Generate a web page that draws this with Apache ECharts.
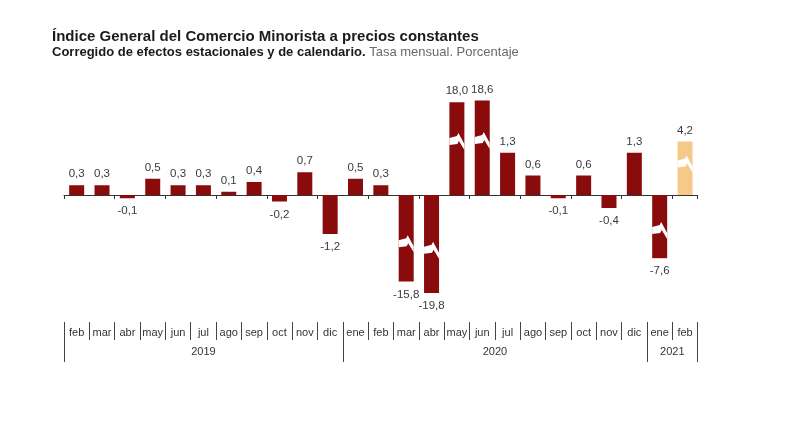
<!DOCTYPE html>
<html>
<head>
<meta charset="utf-8">
<script src="https://cdn.jsdelivr.net/npm/echarts@6/dist/echarts.min.js"></script>
<style>
html,body{margin:0;padding:0;background:#fff;}
#chart{width:800px;height:445px;}
</style>
</head>
<body>
<div id="chart"></div>
<script>
// ---- Data ----
var months = ['feb','mar','abr','may','jun','jul','ago','sep','oct','nov','dic',
              'ene','feb','mar','abr','may','jun','jul','ago','sep','oct','nov','dic',
              'ene','feb'];
var years = ['2019','2019','2019','2019','2019','2019','2019','2019','2019','2019','2019',
             '2020','2020','2020','2020','2020','2020','2020','2020','2020','2020','2020','2020',
             '2021','2021'];
var values = [0.3,0.3,-0.1,0.5,0.3,0.3,0.1,0.4,-0.2,0.7,-1.2,
              0.5,0.3,-15.8,-19.8,18.0,18.6,1.3,0.6,-0.1,0.6,-0.4,1.3,
              -7.6,4.2];
var highlighted = [24]; // last month shown in a lighter colour
var breakFrom = 1.4;    // axis is compressed beyond +-breakFrom
var breakTo = 21;
var breakGap = 1.72;

// ---- Derived ----
var barColor = '#8a0b0b';
var hiColor = '#f6c98a';
function fmt(v){ return v.toFixed(1).replace('.', ','); }

var barData = values.map(function(v, i){
  return {
    value: v,
    itemStyle: {color: highlighted.indexOf(i) >= 0 ? hiColor : barColor},
    label: {position: v < 0 ? 'bottom' : 'top', distance: v < 0 ? 7 : 5}
  };
});
var markData = [];
values.forEach(function(v, i){ if (Math.abs(v) > breakFrom) markData.push([i, v]); });

// year boundaries and centres
var yearTicks = [0], yearCenters = [], yearNames = [];
var start = 0;
for (var i = 1; i <= years.length; i++) {
  if (i === years.length || years[i] !== years[i-1]) {
    yearTicks.push(i);
    yearCenters.push((start + i) / 2);
    yearNames.push(years[i-1]);
    start = i;
  }
}

var chart = echarts.init(document.getElementById('chart'), null, {renderer: 'canvas'});
var FONT = 'Liberation Sans, Arial, sans-serif';
var BW = 15;

chart.setOption({
  animation: false,
  backgroundColor: '#fff',
  title: {
    left: 52, top: 29.5, padding: 0, itemGap: 1,
    text: 'Índice General del Comercio Minorista a precios constantes',
    textStyle: {fontFamily: FONT, fontSize: 15, fontWeight: 'bold', color: '#1a1a1a'},
    subtext: '{b|Corregido de efectos estacionales y de calendario.} {n|Tasa mensual. Porcentaje}',
    subtextStyle: {
      fontFamily: FONT, fontSize: 13,
      rich: {
        b: {fontFamily: FONT, fontSize: 13, fontWeight: 'bold', color: '#1a1a1a'},
        n: {fontFamily: FONT, fontSize: 13, color: '#6a6a6a'}
      }
    }
  },
  grid: {left: 64, right: 102.3, top: 93.6, height: 202.8},
  xAxis: [
    {
      type: 'category', data: months, boundaryGap: true,
      axisLine: {onZero: true, lineStyle: {color: '#333', width: 1}},
      axisTick: {show: true, length: 4, lineStyle: {color: '#333'}},
      axisLabel: {show: false}, splitLine: {show: false}
    },
    {
      type: 'category', data: months, boundaryGap: true, position: 'bottom', offset: 25.6,
      axisLine: {show: false},
      axisTick: {show: true, length: 18, lineStyle: {color: '#444'}},
      axisLabel: {show: true, interval: 0, margin: 5, fontFamily: FONT, fontSize: 11, color: '#333'},
      splitLine: {show: false}
    },
    {
      type: 'value', min: 0, max: months.length, position: 'bottom', offset: 25.6,
      axisLine: {show: false},
      axisTick: {show: true, length: 40, customValues: yearTicks, lineStyle: {color: '#444'}},
      axisLabel: {
        show: true, margin: 24, customValues: yearCenters,
        fontFamily: FONT, fontSize: 11, color: '#333',
        formatter: function(v){
          var k = yearCenters.indexOf(v);
          return k >= 0 ? yearNames[k] : '';
        }
      },
      splitLine: {show: false}
    }
  ],
  yAxis: {
    type: 'value', min: -breakTo, max: breakTo, show: false,
    splitLine: {show: false},
    breaks: [
      {start: -breakTo, end: -breakFrom, gap: breakGap},
      {start: breakFrom, end: breakTo, gap: breakGap}
    ],
    breakArea: {show: false, itemStyle: {opacity: 0}}
  },
  series: [
    {
      type: 'bar', data: barData, barWidth: BW, xAxisIndex: 0,
      label: {
        show: true, fontFamily: FONT, fontSize: 11.5, color: '#3a3a3a',
        formatter: function(p){ return fmt(p.value); }
      },
      z: 2
    },
    {
      type: 'custom', xAxisIndex: 0, data: markData, silent: true, z: 5,
      renderItem: function(params, api){
        var idx = api.value(0), v = api.value(1);
        var base = api.coord([idx, 0]);
        var top = api.coord([idx, v]);
        var cx = base[0];
        var cy = base[1] + 0.57 * (top[1] - base[1]);
        var h = BW / 2;
        var pts = [
          [cx - h, cy - 4], [cx, cy - 6], [cx + 1.5, cy - 9],
          [cx + h, cy + 2], [cx + h, cy + 8], [cx + 2, cy - 1],
          [cx + 0.5, cy + 2], [cx - h, cy + 3]
        ];
        return {type: 'polygon', shape: {points: pts}, style: {fill: '#fff'}};
      }
    }
  ]
});
</script>
</body>
</html>
